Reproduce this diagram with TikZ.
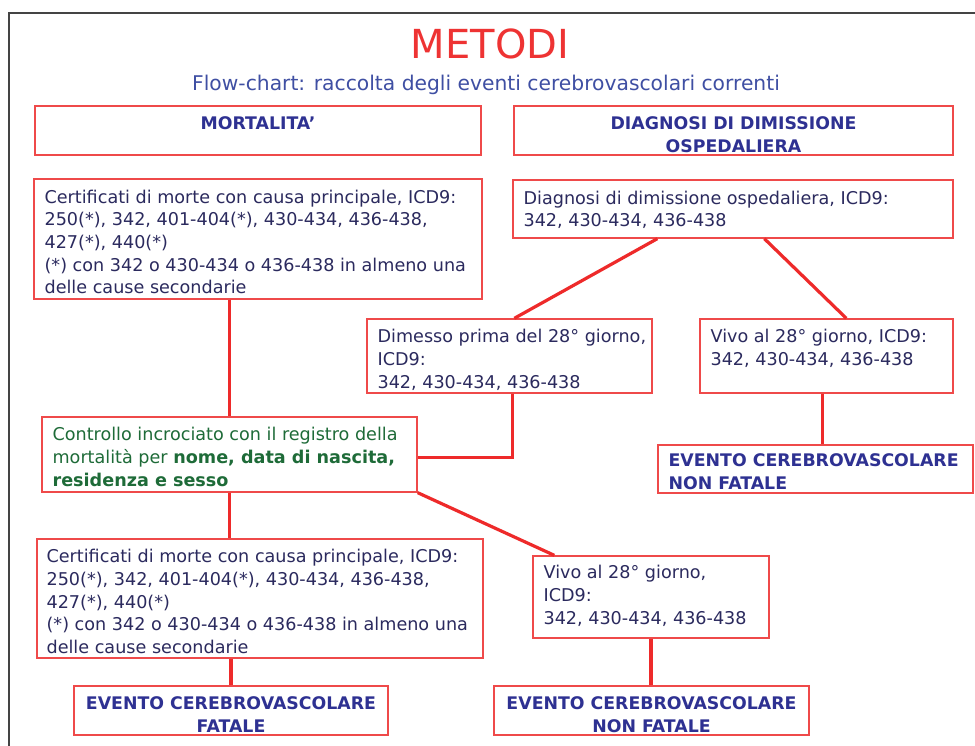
\documentclass[tikz,border=0pt]{standalone}
\usepackage{fontspec}
\setmainfont{DejaVu Sans}
\definecolor{lred}{HTML}{EE2A2A}
\definecolor{bred}{HTML}{EF4A4A}
\definecolor{tred}{HTML}{EE3333}
\definecolor{subblue}{HTML}{3F4FA3}
\definecolor{navy}{HTML}{2B2A5E}
\definecolor{hblue}{HTML}{2E3192}
\definecolor{dgreen}{HTML}{1E6B38}
\definecolor{framegray}{HTML}{444444}
\begin{document}
\begin{tikzpicture}[x=0.75pt,y=-0.75pt,
  box/.style={draw=bred,line width=1pt,inner sep=0pt},
  conn/.style={draw=lred,line width=2.4pt},
  txt/.style={inner sep=0pt,align=left,text=navy,anchor=north west,font=\fontsize{13.2pt}{17pt}\selectfont},
  gtxt/.style={txt,text=dgreen},
  hdrl/.style={inner sep=0pt,align=left,text=hblue,anchor=north west,font=\fontsize{13pt}{17pt}\selectfont\bfseries},
  hdr/.style={inner sep=0pt,align=center,text=hblue,anchor=north,font=\fontsize{13pt}{17pt}\selectfont\bfseries}]
\useasboundingbox (0,0) rectangle (975,746);
\fill[white] (0,0) rectangle (975,746);
\draw[framegray,line width=2pt] (9,750) -- (9,13) -- (980,13);

% title
\node[font=\fontsize{30pt}{36pt}\selectfont,text=tred,anchor=base,inner sep=0pt] (title) at (490,58) {METODI};
\node[font=\fontsize{15.2pt}{18pt}\selectfont,text=subblue,anchor=base,inner sep=0pt] (sub) at (486,90) {Flow-chart: raccolta degli eventi cerebrovascolari correnti};

% boxes
\node[box,minimum width=334.5pt,minimum height=36.75pt] (mort) at (258,130.5) {};
\node[box,minimum width=329.25pt,minimum height=36.75pt] (diagh) at (733.5,130.5) {};
\node[box,minimum width=336pt,minimum height=90pt] (cert1) at (258,239) {};
\node[box,minimum width=330pt,minimum height=43.5pt] (diag) at (733,209) {};
\node[box,minimum width=213.75pt,minimum height=55.5pt] (dim) at (509.5,356) {};
\node[box,minimum width=189.75pt,minimum height=55.5pt] (vivo1) at (826.5,356) {};
\node[box,minimum width=236.25pt,minimum height=36pt] (nf1) at (815.5,469) {};
\node[box,minimum width=281.25pt,minimum height=56.25pt] (ctrl) at (229.5,454.5) {};
\node[box,minimum width=334.5pt,minimum height=89.25pt] (cert2) at (260,598.5) {};
\node[box,minimum width=177pt,minimum height=61.5pt] (vivo2) at (651,597) {};
\node[box,minimum width=235.5pt,minimum height=36.75pt] (fatal) at (231,710.5) {};
\node[box,minimum width=236.25pt,minimum height=36.75pt] (nf2) at (651.5,710.5) {};

% texts
\node[hdr] (mortt) at ([yshift=-8.25pt]mort.north) {MORTALITA'};
\node[hdr] (diaght) at ([yshift=-8.25pt]diagh.north) {DIAGNOSI DI DIMISSIONE\\OSPEDALIERA};
\node[txt] (cert1t) at ([shift={(8.25pt,-8.5pt)}]cert1.north west) {Certificati di morte con causa principale, ICD9:\\250(*), 342, 401-404(*), 430-434, 436-438,\\427(*), 440(*)\\(*) con 342 o 430-434 o 436-438 in almeno una\\delle cause secondarie};
\node[txt] (diagt) at ([shift={(8.25pt,-8.5pt)}]diag.north west) {Diagnosi di dimissione ospedaliera, ICD9:\\342, 430-434, 436-438};
\node[txt] (dimt) at ([shift={(8.25pt,-8.25pt)}]dim.north west) {Dimesso prima del 28° giorno,\\ICD9:\\342, 430-434, 436-438};
\node[txt] (vivo1t) at ([shift={(8.25pt,-8.25pt)}]vivo1.north west) {Vivo al 28° giorno, ICD9:\\342, 430-434, 436-438};
\node[hdrl] (nf1t) at ([shift={(8.25pt,-7pt)}]nf1.north west) {EVENTO CEREBROVASCOLARE\\NON FATALE};
\node[gtxt] (ctrlt) at ([shift={(8.25pt,-8.25pt)}]ctrl.north west) {Controllo incrociato con il registro della\\mortalità per \textbf{nome, data di nascita,}\\\textbf{residenza e sesso}};
\node[txt] (cert2t) at ([shift={(7.5pt,-8.25pt)}]cert2.north west) {Certificati di morte con causa principale, ICD9:\\250(*), 342, 401-404(*), 430-434, 436-438,\\427(*), 440(*)\\(*) con 342 o 430-434 o 436-438 in almeno una\\delle cause secondarie};
\node[txt] (vivo2t) at ([shift={(8.25pt,-7.5pt)}]vivo2.north west) {Vivo al 28° giorno,\\ICD9:\\342, 430-434, 436-438};
\node[hdr] (fatalt) at ([yshift=-8.25pt]fatal.north) {EVENTO CEREBROVASCOLARE\\FATALE};
\node[hdr] (nf2t) at ([yshift=-8.25pt]nf2.north) {EVENTO CEREBROVASCOLARE\\NON FATALE};

% connectors
\draw[conn] (cert1.south -| ctrl.north) -- (ctrl.north);
\draw[conn] (ctrl.south) -- (ctrl.south |- cert2.north);
\draw[conn] (cert2.south -| fatal.north) -- (fatal.north);
\draw[conn] ([xshift=108.75pt]diag.south west) -- ([xshift=111pt]dim.north west);
\draw[conn] ([xshift=189pt]diag.south west) -- ([xshift=110.25pt]vivo1.north west);
\draw[conn] ([xshift=-3pt]vivo1.south) -- ([xshift=-3pt]vivo1.south |- nf1.north);
\draw[conn] ([xshift=109.5pt]dim.south west) |- ([yshift=-2pt]ctrl.east);
\draw[conn] (ctrl.south east) -- ([xshift=16.5pt]vivo2.north west);
\draw[conn] (vivo2.south) -- (vivo2.south |- nf2.north);
\end{tikzpicture}
\end{document}
